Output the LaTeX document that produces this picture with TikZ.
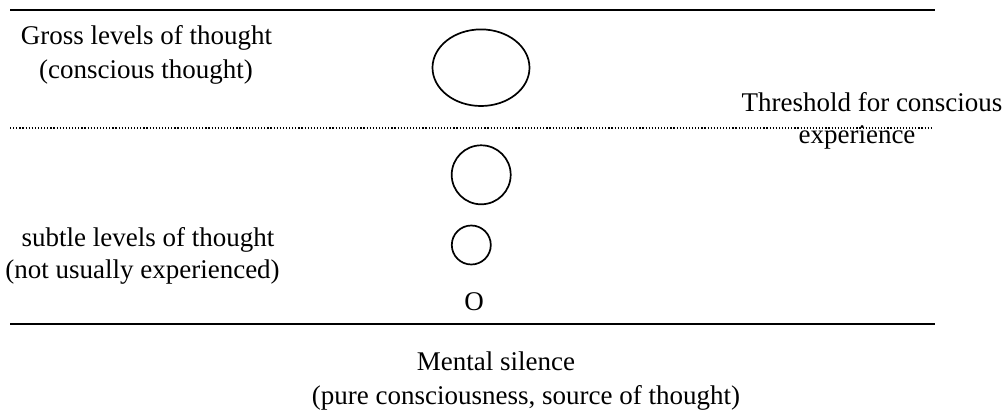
\documentclass[tikz,border=0pt]{standalone}
\usepackage{fontspec}
\setmainfont{Liberation Serif}
\usetikzlibrary{shapes.geometric}
\begin{document}
\begin{tikzpicture}[x=1pt,y=-1pt,
  txt/.style={inner sep=0pt, anchor=base, font=\fontsize{27}{32}\selectfont},
  rule/.style={line width=2pt},
  dotrule/.style={line width=1.2pt, dash pattern=on 1.2pt off 1.9pt},
  bubble/.style={draw, line width=1.7pt, inner sep=0pt}]
\useasboundingbox (0,0) rectangle (1005,412);
% rules
\coordinate (t1) at (10,10);  \coordinate (t2) at (935,10);
\coordinate (d1) at (10,128); \coordinate (d2) at (932,128);
\coordinate (b1) at (10,324); \coordinate (b2) at (935,324);
\draw[rule] (t1) -- (t2);
\draw[dotrule] (d1) -- (d2);
\draw[rule] (b1) -- (b2);
% thought bubbles
\node[bubble, ellipse, minimum width=97pt, minimum height=76.6pt] (ell) at (481,67.7) {};
\node[bubble, circle, minimum size=59pt] (big) at (481.2,174.8) {};
\node[bubble, circle, minimum size=39pt] (small) at (471.3,245) {};
\node[txt] (o) at (474,310) {O};
% labels
\node[txt] (gross1) at (146.5,45) {Gross levels of thought};
\node[txt] (gross2) at (146,78) {(conscious thought)};
\node[txt] (thr1) at (872,111) {Threshold for conscious};
\node[txt] (thr2) at (857,143) {experience};
\node[txt] (sub1) at (148,246) {subtle levels of thought};
\node[txt] (sub2) at (142.5,278) {(not usually experienced)};
\node[txt] (ms1) at (496,370) {Mental silence};
\node[txt] (ms2) at (526,404) {(pure consciousness, source of thought)};
\end{tikzpicture}
\end{document}
